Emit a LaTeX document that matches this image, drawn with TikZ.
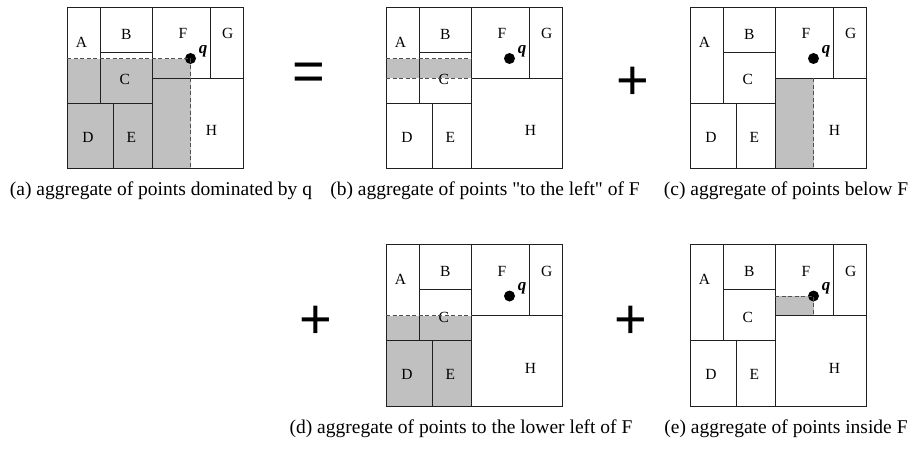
\documentclass[tikz,border=0pt]{standalone}
\usepackage{fontspec}
\setmainfont{Liberation Serif}
\newfontfamily\segnofont{Liberation Sans}

\begin{document}
\begin{tikzpicture}[x=1pt,y=-1pt,
  bordo/.style={draw=colLinea, line width=1pt},
  tratto/.style={draw=colTratto, line width=1pt, dash pattern=on 4pt off 2.5pt},
  zona/.style={fill=colGrigio},
  lettera/.style={font=\fontsize{15.5}{18}\selectfont},
  punto/.style={font=\fontsize{17}{20}\selectfont\bfseries\itshape},
  didascalia/.style={font=\fontsize{19.5}{22}\selectfont},
  segno/.style={font=\segnofont\fontsize{56}{60}\selectfont}]

% Colori
\definecolor{colGrigio}{HTML}{C0C0C0}
\definecolor{colLinea}{HTML}{202020}
\definecolor{colTratto}{HTML}{505050}

\useasboundingbox (0,0) rectangle (909,450);

% Misure di un riquadro
\def\lato{176}
\def\alto{161.5}
\def\xab{33.4}
\def\xbf{85}
\def\xfg{143.7}
\def\xde{46}
\def\qx{123.5}
\def\qy{51.5}
\def\yb{45}
\def\yh{71}
\def\yc{96}

% Suddivisione, lettere e punto q
\def\griglia{
  \draw[bordo] (0,0) rectangle (\lato,\alto);
  \draw[bordo] (\xab,0) -- (\xab,\yc);
  \draw[bordo] (\xbf,0) -- (\xbf,\alto);
  \draw[bordo] (\xfg,0) -- (\xfg,\yh);
  \draw[bordo] (\xbf,\yh) -- (\lato,\yh);
  \draw[bordo] (\xab,\yb) -- (\xbf,\yb);
  \draw[bordo] (0,\yc) -- (\xbf,\yc);
  \draw[bordo] (\xde,\yc) -- (\xde,\alto);
  \node[lettera] (A) at (14.4,35) {A};
  \node[lettera] (B) at (59.4,27) {B};
  \node[lettera] (C) at (57.7,72.5) {C};
  \node[lettera] (D) at (21,130) {D};
  \node[lettera] (E) at (64.4,130) {E};
  \node[lettera] (F) at (116,26.5) {F};
  \node[lettera] (G) at (160.7,26.5) {G};
  \node[lettera] (H) at (144.4,123.5) {H};
  \fill (\qx,\qy) circle (5.5pt);
  \node[punto] (q) at (136,44) {q};
}

% (a) punti dominati da q
\begin{scope}[shift={(67,7)}, name prefix=a-]
\fill[zona] (0,\qy) rectangle (\qx,\alto);
\griglia
\draw[tratto] (0,\qy) -- (\qx,\qy) -- (\qx,\alto);
\end{scope}

% (b) a sinistra di F
\begin{scope}[shift={(386,7)}, name prefix=b-]
\fill[zona] (0,\qy) rectangle (\xbf,\yh);
\griglia
\draw[tratto] (0,\qy) -- (\xbf,\qy);
\draw[tratto] (0,\yh) -- (\xbf,\yh);
\end{scope}

% (c) sotto F
\begin{scope}[shift={(690,7)}, name prefix=c-]
\fill[zona] (\xbf,\yh) rectangle (\qx,\alto);
\griglia
\draw[tratto] (\qx,\yh) -- (\qx,\alto);
\end{scope}

% (d) in basso a sinistra di F
\begin{scope}[shift={(386,244.5)}, name prefix=d-]
\fill[zona] (0,\yh) rectangle (\xbf,\alto);
\griglia
\draw[tratto] (0,\yh) -- (\xbf,\yh);
\end{scope}

% (e) dentro F
\begin{scope}[shift={(690,244.5)}, name prefix=e-]
\fill[zona] (\xbf,\qy) rectangle (\qx,\yh);
\griglia
\draw[tratto] (\xbf,\qy) -- (\qx,\qy) -- (\qx,\yh);
\end{scope}

% Segni
\node[segno] (uguale) at (309,77) {=};
\node[segno] (piu1) at (633,83) {+};
\node[segno] (piu2) at (316,322) {+};
\node[segno] (piu3) at (631,322) {+};

% Didascalie
\node[didascalia] (capa) at (161,191) {(a) aggregate of points dominated by q};
\node[didascalia] (capb) at (485,191) {(b) aggregate of points \textquotedbl to the left\textquotedbl\ of F};
\node[didascalia] (capc) at (786,191) {(c) aggregate of points below F};
\node[didascalia] (capd) at (461,429) {(d) aggregate of points to the lower left of F};
\node[didascalia] (cape) at (786,429) {(e) aggregate of points inside F};

\end{tikzpicture}
\end{document}
